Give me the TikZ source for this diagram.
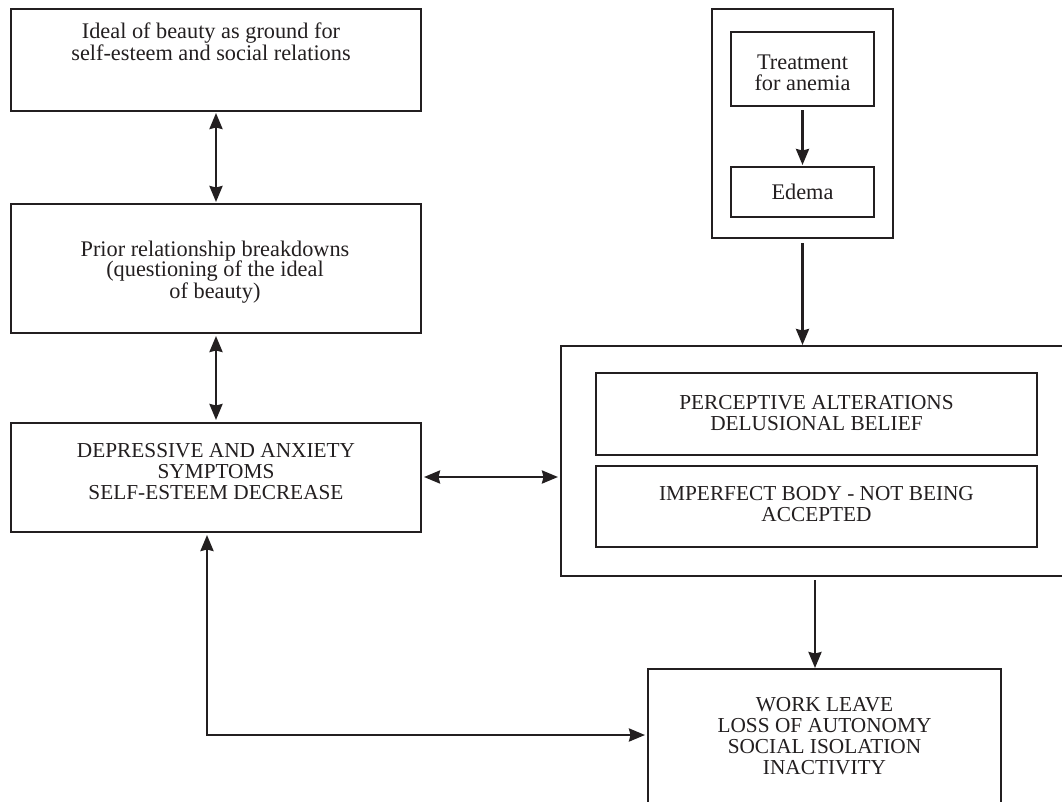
\documentclass[tikz,border=0pt]{standalone}
\usepackage{fontspec}
\setmainfont{Liberation Serif}
\usetikzlibrary{arrows.meta,calc}
\definecolor{ink}{HTML}{231F20}
\begin{document}
\begin{tikzpicture}[x=1pt,y=-1pt,
  box/.style={draw=ink,line width=1.4pt,inner sep=0pt,outer sep=0pt},
  txt/.style={align=center,inner sep=0pt,text=ink,font=\fontsize{22.3}{20.5}\selectfont},
  ctxt/.style={align=center,inner sep=0pt,text=ink,font=\fontsize{21.3}{21}\selectfont},
  tip/.tip={Stealth[length=16pt,width=13pt,inset=1.5pt]},
  arr/.style={draw=ink,line width=2.6pt,-tip},
  darr/.style={draw=ink,line width=2.6pt,tip-tip}]
\useasboundingbox (0,0) rectangle (1062,801);
\fill[white] (0,0) rectangle (1062,801);
\clip (0,0) rectangle (1062,801);
% left column
\node[box,minimum width=410pt,minimum height=102pt] (b1) at (216,60) {};
\node[txt] (t1) at (211,42) {Ideal of beauty as ground for\\self-esteem and social relations};
\node[box,minimum width=410pt,minimum height=129pt] (b2) at (216,268.5) {};
\node[txt] (t2) at (215,272) {Prior relationship breakdowns\\(questioning of the ideal\\of beauty)};
\node[box,minimum width=410pt,minimum height=109pt] (b3) at (216,477.5) {};
\node[ctxt] (t3) at (216,472) {DEPRESSIVE AND ANXIETY\\SYMPTOMS\\SELF-ESTEEM DECREASE};
% top right
\node[box,minimum width=181pt,minimum height=229pt] (outer) at (802.5,123.5) {};
\node[box,minimum width=143pt,minimum height=74pt] (treat) at (802.5,69) {};
\node[txt] (t4) at (802.5,73) {Treatment\\for anemia};
\node[box,minimum width=143pt,minimum height=50pt] (edema) at (802.5,192) {};
\node[txt] (t5) at (802.5,192) {Edema};
% big right box
\node[box,minimum width=514pt,minimum height=230pt] (big) at (818,461) {};
\node[box,minimum width=441pt,minimum height=82pt] (perc) at (816.5,414) {};
\node[ctxt] (t6) at (816.5,413) {PERCEPTIVE ALTERATIONS\\DELUSIONAL BELIEF};
\node[box,minimum width=441pt,minimum height=81pt] (imp) at (816.5,506.5) {};
\node[ctxt] (t7) at (816.5,504) {IMPERFECT BODY - NOT BEING\\ACCEPTED};
% bottom box (cut off)
\node[box,minimum width=353pt,minimum height=161pt] (work) at (824.5,749.5) {};
\node[ctxt] (t8) at (824.5,736) {WORK LEAVE\\LOSS OF AUTONOMY\\SOCIAL ISOLATION\\INACTIVITY};
% connectors
\draw[darr,shorten <=2pt,shorten >=2pt] (b1.south) -- (b2.north);
\draw[darr,shorten <=3pt,shorten >=3pt] (b2.south) -- (b3.north);
\draw[darr,shorten <=3pt,shorten >=3pt] ([yshift=0.5pt]b3.east) -- ([yshift=0.5pt]b3.east -| big.west);
\draw[arr,shorten <=4pt,shorten >=2pt] (treat.south) -- (edema.north);
\draw[arr,shorten <=5pt,shorten >=1pt] (outer.south) -- (outer.south |- big.north);
\draw[arr,shorten <=4pt,shorten >=1pt] ([xshift=-3pt]big.south) -- ([xshift=-3pt]big.south |- work.north);
\draw[darr,shorten <=3pt,shorten >=3pt] ([xshift=-9pt]b3.south) |- ([yshift=14.5pt]work.west);
\end{tikzpicture}
\end{document}
